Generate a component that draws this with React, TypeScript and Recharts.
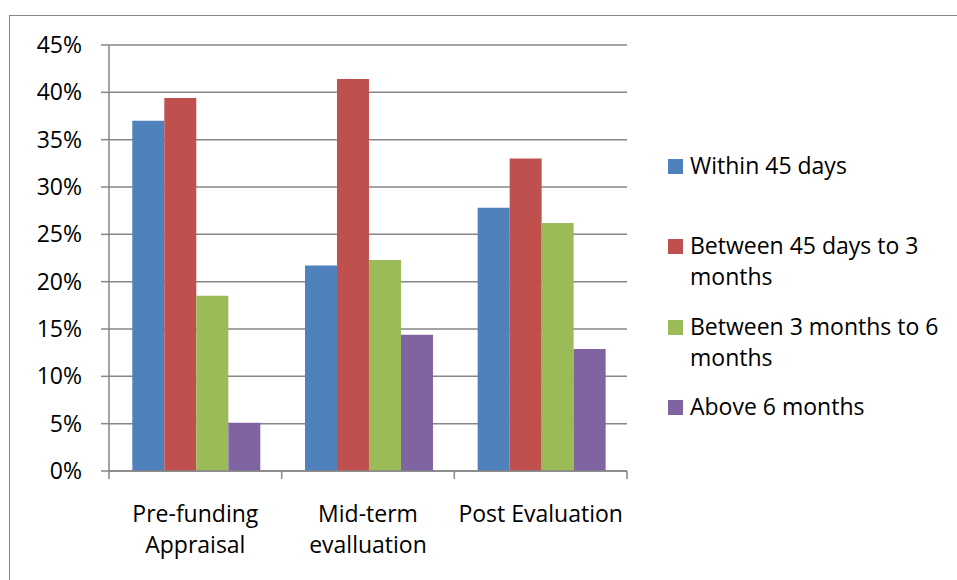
import { BarChart, Bar, XAxis, YAxis, CartesianGrid } from 'recharts'

// categories and the way their labels break over two lines
const categories = ['Pre-funding Appraisal', 'Mid-term evalluation', 'Post Evaluation']
const categoryLines = [['Pre-funding', 'Appraisal'], ['Mid-term', 'evalluation'], ['Post Evaluation']]

// series values (share of respondents)
const within45Days = [0.37, 0.217, 0.278]
const between45DaysTo3Months = [0.394, 0.414, 0.33]
const between3To6Months = [0.185, 0.223, 0.262]
const above6Months = [0.051, 0.144, 0.129]

const yTicks = [0, 0.05, 0.1, 0.15, 0.2, 0.25, 0.3, 0.35, 0.4, 0.45]

const seriesNames = [
  'Within 45 days',
  'Between 45 days to 3 months',
  'Between 3 months to 6 months',
  'Above 6 months',
]
const seriesKeys = ['within45', 'between45to3', 'between3to6', 'above6']
const seriesColors = ['#4F81BD', '#C0504D', '#9BBB59', '#8064A2']

const data = categories.map((name, i) => ({
  name,
  within45: within45Days[i],
  between45to3: between45DaysTo3Months[i],
  between3to6: between3To6Months[i],
  above6: above6Months[i],
}))

const FONT = '"Open Sans", sans-serif'
const FONT_SIZE = 23
const GRID = '#868686'
const W = 957
const H = 580
const PLOT_LEFT = 109
const PLOT_RIGHT = 627

const CategoryTick = (props: any) => {
  const { x, y, payload, index } = props
  const half =
    payload && typeof payload.offset === 'number' && payload.offset > 0
      ? payload.offset
      : (PLOT_RIGHT - PLOT_LEFT) / categories.length / 2
  const lines = categoryLines[index] || [payload.value]
  return (
    <g>
      <line x1={x - half} y1={y} x2={x - half} y2={y + 8} stroke={GRID} strokeWidth={1.5} />
      {index === categories.length - 1 && (
        <line x1={x + half} y1={y} x2={x + half} y2={y + 8} stroke={GRID} strokeWidth={1.5} />
      )}
      <text x={x} y={y} textAnchor="middle" fontSize={FONT_SIZE} fontFamily={FONT} fill="#000">
        {lines.map((l: string, i: number) => (
          <tspan key={i} x={x} dy={i === 0 ? 51 : 31}>
            {l}
          </tspan>
        ))}
      </text>
    </g>
  )
}

export default function App() {
  return (
    <div style={{ position: 'absolute', left: 0, top: 0, width: W, height: H, background: '#fff', overflow: 'hidden' }}>
      <div
        style={{
          position: 'absolute',
          left: 9,
          top: 15,
          width: 980,
          height: 600,
          border: `1.5px solid ${GRID}`,
          boxSizing: 'border-box',
        }}
      />
      <div style={{ position: 'absolute', left: 0, top: 0 }}>
        <BarChart
          width={W}
          height={H}
          data={data}
          margin={{ top: 45, right: W - PLOT_RIGHT, bottom: 29, left: 0 }}
          barGap={0}
          barCategoryGap="13.5%"
        >
          <CartesianGrid vertical={false} stroke={GRID} strokeWidth={1.5} />
          <XAxis
            dataKey="name"
            height={80}
            tickSize={0}
            tickMargin={0}
            tickLine={false}
            axisLine={{ stroke: GRID, strokeWidth: 1.5 }}
            tick={<CategoryTick />}
            interval={0}
          />
          <YAxis
            width={PLOT_LEFT}
            domain={[0, 0.45]}
            ticks={yTicks}
            tickSize={8}
            tickMargin={19}
            tickFormatter={(v: number) => `${Math.round(v * 100)}%`}
            tick={{ fontSize: FONT_SIZE, fontFamily: FONT, fill: '#000' }}
            axisLine={{ stroke: GRID, strokeWidth: 1.5 }}
            tickLine={{ stroke: GRID, strokeWidth: 1.5 }}
          />
          {seriesKeys.map((k, i) => (
            <Bar key={k} dataKey={k} name={seriesNames[i]} fill={seriesColors[i]} isAnimationActive={false} />
          ))}
        </BarChart>
      </div>
      <div style={{ position: 'absolute', left: 668, top: 150, width: 284, fontFamily: FONT, fontSize: FONT_SIZE, color: '#000' }}>
        {seriesNames.map((n, i) => (
          <div key={n} style={{ position: 'relative', height: 80.3, paddingLeft: 22, lineHeight: '31px', boxSizing: 'border-box' }}>
            <span
              style={{ position: 'absolute', left: 0, top: 9, width: 15, height: 15, background: seriesColors[i] }}
            />
            {n}
          </div>
        ))}
      </div>
    </div>
  )
}
